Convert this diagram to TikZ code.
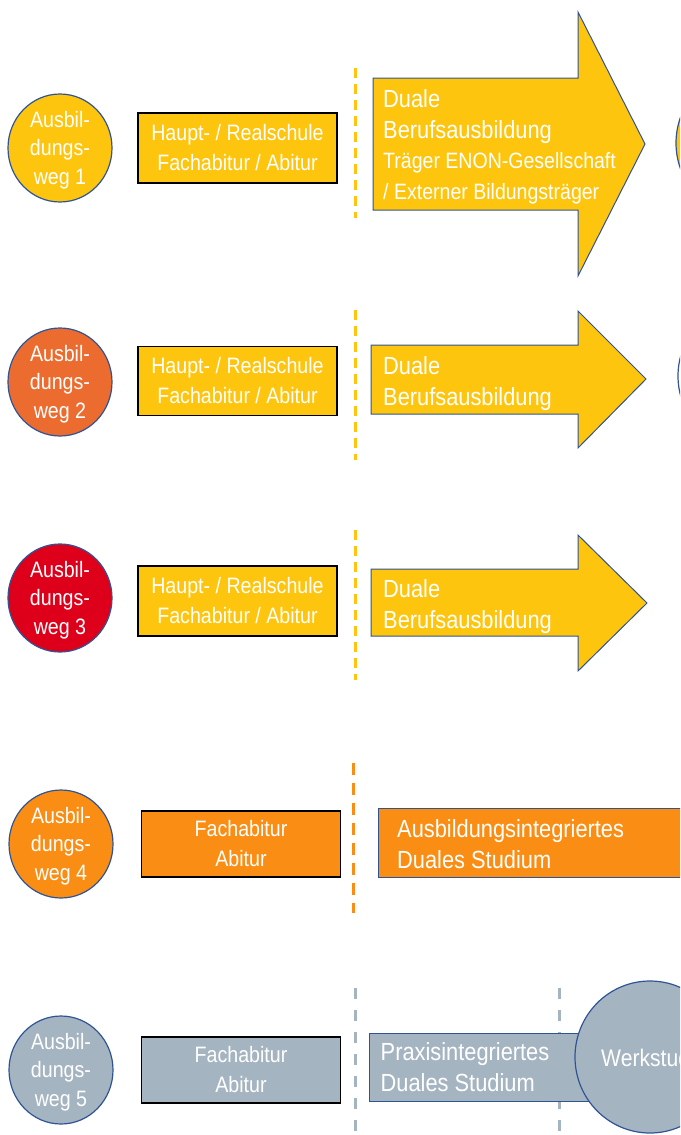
\documentclass[tikz,border=0pt]{standalone}
\usepackage{fontspec}
\setmainfont{Liberation Sans}[FakeStretch=0.88]
\usetikzlibrary{shapes.geometric}
\definecolor{ygold}{RGB}{253,197,14}
\definecolor{rorange}{RGB}{236,108,48}
\definecolor{rred}{RGB}{222,0,27}
\definecolor{borange}{RGB}{250,142,20}
\definecolor{sgrey}{RGB}{165,180,193}
\definecolor{eblue}{RGB}{47,84,150}
\begin{document}
\begin{tikzpicture}[x=1pt,y=-1pt,
 wegcirc/.style={ellipse, draw=eblue, line width=1.2pt, minimum width=104pt, minimum height=108pt, inner sep=0pt},
 wegtext/.style={text=white, align=center, font=\fontsize{22.3}{28.5}\selectfont, inner sep=0pt},
 schoolbox/.style={rectangle, draw=black, line width=1.3pt, minimum width=199pt, text=white, align=center, font=\fontsize{22.3}{30}\selectfont, inner sep=0pt},
 arrowshape/.style={fill=ygold, draw=eblue, line width=1pt, line join=miter},
 studybox/.style={draw=eblue, line width=1pt},
 sepline/.style={line width=3pt, dash pattern=on 10pt off 6pt},
 greysep/.style={line width=3pt, dash pattern=on 11pt off 11pt, sgrey},
 bigtext/.style={text=white, anchor=base west, inner sep=0pt, font=\fontsize{24.8}{30}\selectfont},
 smalltext/.style={text=white, anchor=base west, inner sep=0pt, font=\fontsize{22.2}{30}\selectfont},
]
\useasboundingbox (0,0) rectangle (680,1135);
\clip (0,0) rectangle (680,1135);

% ---------- Row 1
\node[wegcirc, fill=ygold] (c1) at (60,148) {};
\node[wegtext] (c1t) at ([yshift=-2pt]c1.center) {Ausbil-\\dungs-\\weg 1};
\node[schoolbox, fill=ygold, minimum height=70pt] (b1) at (237.5,148) {Haupt- / Realschule\\Fachabitur / Abitur};
\coordinate (d1a) at (355.5,68); \coordinate (d1b) at (355.5,218);
\draw[sepline, ygold] (d1a) -- (d1b);
\draw[arrowshape] (373,78) -- (578,78) -- (578,12) -- (645,144) -- (578,276) -- (578,210) -- (373,210) -- cycle;
\node[bigtext] (a1l1) at (383,107) {Duale};
\node[bigtext] (a1l2) at (383,138) {Berufsausbildung};
\node[smalltext] (a1l3) at (383,168) {Träger ENON-Gesellschaft};
\node[smalltext] (a1l4) at (383,199) {/ Externer Bildungsträger};
\node[circle, draw=eblue, line width=1.2pt, fill=ygold, minimum size=150pt] (r1) at (751,143) {};

% ---------- Row 2
\node[wegcirc, fill=rorange] (c2) at (60,382) {};
\node[wegtext] (c2t) at ([yshift=-2pt]c2.center) {Ausbil-\\dungs-\\weg 2};
\node[schoolbox, fill=ygold, minimum height=69pt] (b2) at (237.5,381) {Haupt- / Realschule\\Fachabitur / Abitur};
\coordinate (d2a) at (355.5,310); \coordinate (d2b) at (355.5,460);
\draw[sepline, ygold] (d2a) -- (d2b);
\draw[arrowshape] (371,345) -- (578,345) -- (578,311) -- (646,379) -- (578,448) -- (578,414) -- (371,414) -- cycle;
\node[bigtext] (a2l1) at (383,374) {Duale};
\node[bigtext] (a2l2) at (383,405) {Berufsausbildung};
\node[circle, draw=eblue, line width=1.2pt, fill=white, minimum size=150pt] (r2) at (753,376) {};

% ---------- Row 3
\node[wegcirc, fill=rred] (c3) at (60,598) {};
\node[wegtext] (c3t) at ([yshift=-2pt]c3.center) {Ausbil-\\dungs-\\weg 3};
\node[schoolbox, fill=ygold, minimum height=70pt] (b3) at (237.5,601) {Haupt- / Realschule\\Fachabitur / Abitur};
\coordinate (d3a) at (355.5,530); \coordinate (d3b) at (355.5,680);
\draw[sepline, ygold] (d3a) -- (d3b);
\draw[arrowshape] (371,569) -- (578,569) -- (578,535) -- (647,603) -- (578,671) -- (578,636) -- (371,636) -- cycle;
\node[bigtext] (a3l1) at (383,597) {Duale};
\node[bigtext] (a3l2) at (383,628) {Berufsausbildung};

% ---------- Row 4
\node[wegcirc, fill=borange] (c4) at (61,844) {};
\node[wegtext] (c4t) at ([yshift=-2pt]c4.center) {Ausbil-\\dungs-\\weg 4};
\node[schoolbox, fill=borange, minimum height=66pt] (b4) at (241,844) {Fachabitur\\Abitur};
\coordinate (d4a) at (353.5,763); \coordinate (d4b) at (353.5,913);
\draw[sepline, borange, dash pattern=on 12pt off 8pt] (d4a) -- (d4b);
\draw[studybox, fill=borange] (378.5,808) rectangle (700,877);
\node[bigtext] (s4l1) at (397,837) {Ausbildungsintegriertes};
\node[bigtext] (s4l2) at (397,868) {Duales Studium};

% ---------- Row 5
\node[wegcirc, fill=sgrey] (c5) at (61,1070) {};
\node[wegtext] (c5t) at ([yshift=-2pt]c5.center) {Ausbil-\\dungs-\\weg 5};
\node[schoolbox, fill=sgrey, minimum height=66pt] (b5) at (241,1070) {Fachabitur\\Abitur};
\coordinate (d5a) at (355,988); \coordinate (d5b) at (355,1140);
\draw[greysep] (d5a) -- (d5b);
\coordinate (d6a) at (559.5,988); \coordinate (d6b) at (559.5,1140);
\draw[greysep] (d6a) -- (d6b);
\draw[studybox, fill=sgrey] (369.5,1033) rectangle (640,1101.5);
\node[bigtext] (s5l1) at (380.5,1060) {Praxisintegriertes};
\node[bigtext] (s5l2) at (380.5,1091) {Duales Studium};
\node[ellipse, draw=eblue, line width=1.2pt, fill=sgrey, minimum width=150pt, minimum height=152pt, inner sep=0pt] (w5) at (650,1057) {};
\node[bigtext, font=\fontsize{24}{30}\selectfont] (w5t) at (601,1066) {Werkstudent};
\end{tikzpicture}
\end{document}
